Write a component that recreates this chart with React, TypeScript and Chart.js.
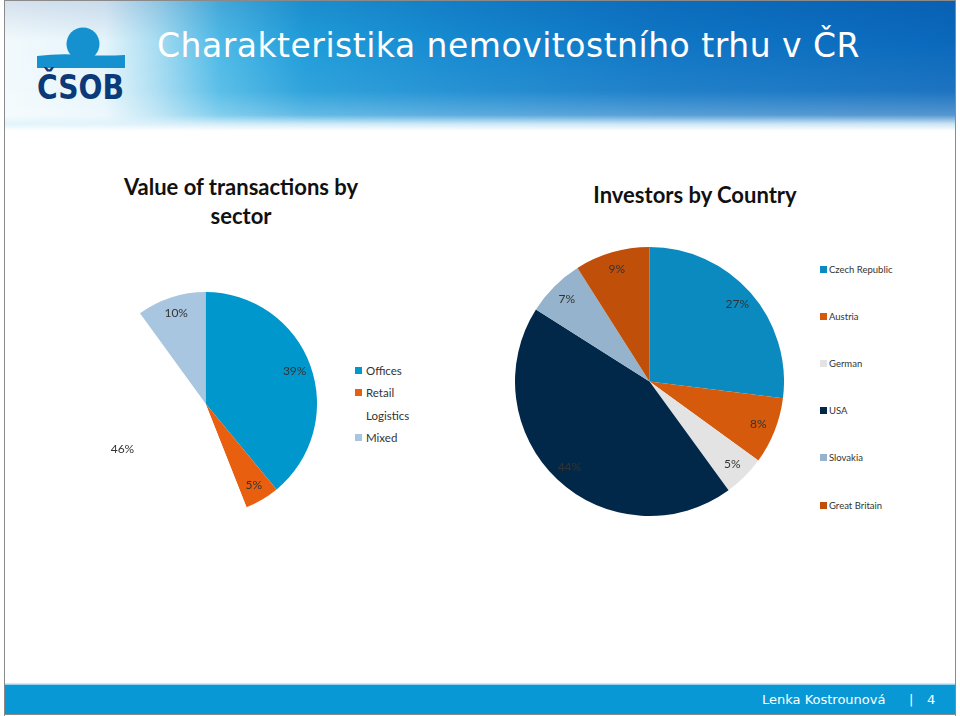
import React, { useEffect, useRef } from "react";
import { Chart, registerables } from "chart.js";

Chart.register(...registerables);

// ---- Data ----
const sectorLabels = ["Offices", "Retail", "Logistics", "Mixed"];
const sectorValues = [39, 5, 46, 10];
const sectorColors = ["#0097CC", "#E8600F", "#FFFFFF", "#A9C6E0"];

const countryLabels = ["Czech Republic", "Austria", "German", "USA", "Slovakia", "Great Britain"];
const countryValues = [27, 8, 5, 44, 7, 9];
const countryColors = ["#0A8ABF", "#D55A0B", "#E3E3E3", "#022849", "#95B3CC", "#C04F0A"];

const slideTitle = "Charakteristika nemovitostního trhu v ČR";
const sectorTitle = ["Value of transactions by", "sector"];
const countryTitle = "Investors by Country";
const footerName = "Lenka Kostrounová";
const footerPage = "4";

const FONT = "Lato, 'Open Sans', 'Liberation Sans', sans-serif";
const FONT_V = "'DejaVu Sans', Verdana, sans-serif";

const pctLabelPlugin = {
  id: "pctLabels",
  afterDatasetsDraw(chart: any, _args: any, opts: any) {
    const ctx = chart.ctx;
    const meta = chart.getDatasetMeta(0);
    const ds = chart.data.datasets[0];
    ctx.save();
    ctx.font = opts.font;
    ctx.fillStyle = opts.color;
    ctx.textAlign = "center";
    ctx.textBaseline = "middle";
    meta.data.forEach((arc: any, i: number) => {
      const p = arc.getProps(["x", "y", "startAngle", "endAngle", "outerRadius"], true);
      const mid = (p.startAngle + p.endAngle) / 2;
      const r = p.outerRadius * opts.ratio;
      ctx.fillText(ds.data[i] + "%", p.x + Math.cos(mid) * r, p.y + Math.sin(mid) * r);
    });
    ctx.restore();
  },
};

function PieChart(props: {
  labels: string[];
  values: number[];
  colors: string[];
  size: number;
  font: string;
  ratio: number;
}) {
  const ref = useRef<HTMLCanvasElement | null>(null);
  useEffect(() => {
    if (!ref.current) return;
    const chart = new Chart(ref.current, {
      type: "pie",
      data: {
        labels: props.labels,
        datasets: [
          {
            data: props.values,
            backgroundColor: props.colors,
            borderWidth: 0,
          },
        ],
      },
      options: {
        responsive: false,
        animation: false,
        layout: { padding: 0 },
        plugins: {
          legend: { display: false },
          tooltip: { enabled: false },
          title: { display: false },
          pctLabels: { font: props.font, color: "#333333", ratio: props.ratio },
        } as any,
      },
      plugins: [pctLabelPlugin],
    });
    return () => chart.destroy();
  }, []);
  return <canvas ref={ref} width={props.size} height={props.size} style={{ display: "block" }} />;
}

function Legend(props: {
  labels: string[];
  colors: string[];
  left: number;
  top: number;
  rowGap: number;
  box: number;
  fontSize: number;
  textGap: number;
}) {
  return (
    <div style={{ position: "absolute", left: props.left, top: props.top }}>
      {props.labels.map((l, i) => (
        <div
          key={l}
          style={{
            position: "absolute",
            left: 0,
            top: i * props.rowGap,
            height: 16,
            display: "flex",
            alignItems: "center",
            whiteSpace: "nowrap",
            fontFamily: FONT,
            fontSize: props.fontSize,
            color: "#333",
          }}
        >
          <span
            style={{
              display: "inline-block",
              width: props.box,
              height: props.box,
              background: props.colors[i],
              marginRight: props.textGap,
            }}
          />
          {l}
        </div>
      ))}
    </div>
  );
}

function Logo() {
  return (
    <svg width="160" height="120" style={{ position: "absolute", left: 0, top: 0 }} viewBox="0 0 160 120">
      <circle cx="83" cy="44" r="16.5" fill="#1591CF" />
      <path d="M37 56 Q60 53 83 55 Q105 56 125 55 L125 68 L37 68 Z" fill="#1591CF" />
      <text
        x="37"
        y="99"
        textLength="87"
        lengthAdjust="spacingAndGlyphs"
        style={{ fontFamily: FONT_V, fontWeight: 900, fontSize: 33 }}
        fill="#0B3A78"
      >
        ČSOB
      </text>
    </svg>
  );
}

export default function App() {
  return (
    <div
      style={{
        position: "absolute",
        left: 0,
        top: 0,
        width: 960,
        height: 716,
        background: "#fff",
        overflow: "hidden",
      }}
    >
      {/* header banner */}
      <div
        style={{
          position: "absolute",
          left: 5,
          top: 1,
          width: 950,
          height: 130,
          background:
            "linear-gradient(90deg, #f2fafd 0px, #e4f4fb 100px, #a9ddf2 150px, #4db9e6 215px, #1f9cd9 300px, #1589d0 450px, #0e76c5 650px, #0a68bb 950px)",
        }}
      />
      <div
        style={{
          position: "absolute",
          left: 5,
          top: 1,
          width: 950,
          height: 130,
          background:
            "linear-gradient(180deg, rgba(0,40,120,0.12) 0px, rgba(255,255,255,0) 40px, rgba(255,255,255,0.08) 90px, rgba(255,255,255,0.3) 114px, rgba(225,243,251,0.9) 123px, #ffffff 130px)",
        }}
      />
      <Logo />
      <div
        style={{
          position: "absolute",
          left: 157,
          top: 26,
          fontFamily: FONT_V,
          fontSize: 33,
          letterSpacing: 0.5,
          color: "#fff",
          whiteSpace: "nowrap",
          lineHeight: "40px",
        }}
      >
        {slideTitle}
      </div>

      {/* frame lines */}
      <div style={{ position: "absolute", left: 4, top: 0, width: 1, height: 716, background: "#8a8a8a" }} />
      <div style={{ position: "absolute", left: 955, top: 0, width: 1, height: 716, background: "#8a8a8a" }} />
      <div style={{ position: "absolute", left: 4, top: 0, width: 952, height: 1, background: "#8a8a8a" }} />
      <div style={{ position: "absolute", left: 4, top: 714, width: 952, height: 1, background: "#8a8a8a" }} />

      {/* chart titles */}
      <div
        style={{
          position: "absolute",
          left: 90,
          width: 302,
          top: 172,
          textAlign: "center",
          fontFamily: FONT,
          fontWeight: 700,
          fontSize: 22,
          lineHeight: "29px",
          color: "#111",
        }}
      >
        {sectorTitle[0]}
        <br />
        {sectorTitle[1]}
      </div>
      <div
        style={{
          position: "absolute",
          left: 540,
          width: 310,
          top: 180,
          textAlign: "center",
          fontFamily: FONT,
          fontWeight: 700,
          fontSize: 22,
          lineHeight: "29px",
          color: "#111",
        }}
      >
        {countryTitle}
      </div>

      {/* pies */}
      <div style={{ position: "absolute", left: 94, top: 292 }}>
        <PieChart
          labels={sectorLabels}
          values={sectorValues}
          colors={sectorColors}
          size={223}
          font={"12px " + FONT}
          ratio={0.85}
        />
      </div>
      <div style={{ position: "absolute", left: 515, top: 247 }}>
        <PieChart
          labels={countryLabels}
          values={countryValues}
          colors={countryColors}
          size={269}
          font={"12px " + FONT}
          ratio={0.87}
        />
      </div>

      <Legend
        labels={sectorLabels}
        colors={sectorColors}
        left={355}
        top={362}
        rowGap={22.6}
        box={7}
        fontSize={11.5}
        textGap={4}
      />
      <Legend
        labels={countryLabels}
        colors={countryColors}
        left={820}
        top={261}
        rowGap={47.2}
        box={7}
        fontSize={9.5}
        textGap={2}
      />

      {/* footer */}
      <div
        style={{
          position: "absolute",
          left: 5,
          top: 683,
          width: 950,
          height: 2,
          background: "linear-gradient(180deg, #e8f5fb, #7cc8ea)",
        }}
      />
      <div
        style={{
          position: "absolute",
          left: 5,
          top: 685,
          width: 950,
          height: 29,
          background: "#0898D6",
        }}
      />
      <div
        style={{
          position: "absolute",
          left: 762,
          top: 690,
          fontFamily: FONT_V,
          fontSize: 13,
          color: "#fff",
          whiteSpace: "nowrap",
          lineHeight: "20px",
        }}
      >
        {footerName}
      </div>
      <div
        style={{
          position: "absolute",
          left: 909,
          top: 690,
          fontFamily: FONT_V,
          fontSize: 13,
          color: "#fff",
          lineHeight: "20px",
        }}
      >
        |
      </div>
      <div
        style={{
          position: "absolute",
          left: 927,
          top: 690,
          fontFamily: FONT_V,
          fontSize: 13,
          color: "#fff",
          lineHeight: "20px",
        }}
      >
        {footerPage}
      </div>
    </div>
  );
}
